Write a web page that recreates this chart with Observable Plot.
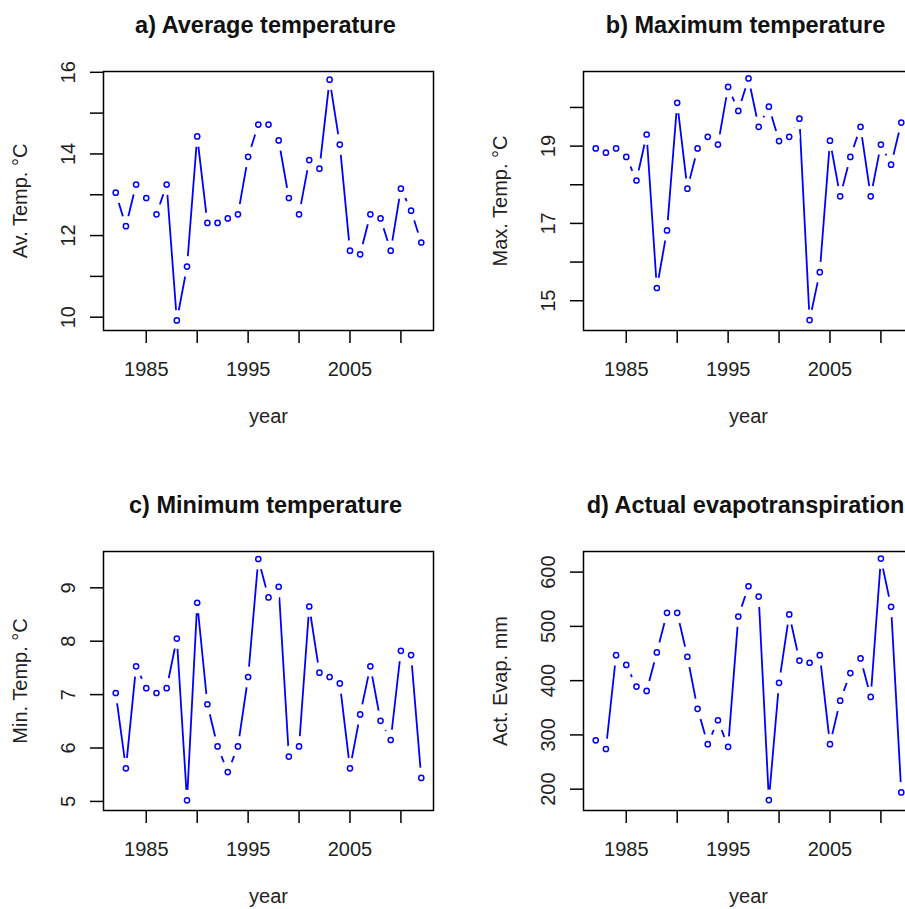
<!DOCTYPE html>
<html>
<head>
<meta charset="utf-8">
<script src="https://cdn.jsdelivr.net/npm/d3@7"></script>
<script src="https://cdn.jsdelivr.net/npm/@observablehq/plot@0.6"></script>
<style>
  html, body { margin: 0; padding: 0; background: white; }
  #wrap { position: relative; width: 905px; height: 909px; overflow: hidden; background: white; }
  #wrap > div { position: absolute; width: 480px; height: 480px; }
  #wrap svg { max-width: none !important; }
</style>
</head>
<body>
<div id="wrap"></div>
<script>
// ---- data ----
const years = [1982, 1983, 1984, 1985, 1986, 1987, 1988, 1989, 1990, 1991, 1992, 1993, 1994, 1995, 1996, 1997,
               1998, 1999, 2000, 2001, 2002, 2003, 2004, 2005, 2006, 2007, 2008, 2009, 2010, 2011, 2012];

const avgTemp = [13.05, 12.23, 13.25, 12.92, 12.52, 13.25, 9.92, 11.24, 14.43, 12.31, 12.31, 12.42, 12.52, 13.93, 14.72, 14.72,
                 14.33, 12.92, 12.52, 13.85, 13.64, 15.82, 14.23, 11.63, 11.54, 12.52, 12.42, 11.63, 13.15, 12.61, 11.83];

const maxTemp = [18.94, 18.83, 18.94, 18.72, 18.11, 19.30, 15.33, 16.82, 20.12, 17.90, 18.94, 19.24, 19.04, 20.53, 19.91, 20.75,
                 19.50, 20.02, 19.13, 19.24, 19.71, 14.50, 15.74, 19.14, 17.70, 18.72, 19.50, 17.70, 19.04, 18.52, 19.61];

const minTemp = [7.03, 5.62, 7.53, 7.12, 7.03, 7.12, 8.05, 5.02, 8.72, 6.82, 6.03, 5.55, 6.03, 7.33, 9.54, 8.82,
                 9.02, 5.84, 6.03, 8.65, 7.41, 7.33, 7.21, 5.62, 6.63, 7.53, 6.51, 6.15, 7.82, 7.74, 5.44];

const actEvap = [290, 274, 447, 429, 389, 381, 452, 525, 525, 444, 348, 283, 327, 278, 518, 574,
                 555, 180, 396, 522, 437, 433, 447, 283, 363, 414, 441, 370, 625, 536, 194];

const titles = ["a) Average temperature", "b) Maximum temperature", "c) Minimum temperature", "d) Actual evapotranspiration"];
const yLabels = ["Av. Temp. °C", "Max. Temp. °C", "Min. Temp. °C", "Act. Evap. mm"];
const xLabel = "year";

const xTicks = [1985, 1990, 1995, 2000, 2005, 2010];
const xTickLabels = [1985, 1995, 2005];

const yTicksA = [10, 11, 12, 13, 14, 15, 16];
const yTickLabelsA = [10, 12, 14, 16];
const yTicksB = [15, 16, 17, 18, 19, 20];
const yTickLabelsB = [15, 17, 19];
const yTicksC = [5, 6, 7, 8, 9];
const yTickLabelsC = [5, 6, 7, 8, 9];
const yTicksD = [200, 300, 400, 500, 600];
const yTickLabelsD = [200, 300, 400, 500, 600];

// ---- drawing ----
const BLUE = "#0000ff";
const FONT = "'Liberation Sans', Arial, Helvetica, sans-serif";

function panel(values, title, ylab, yDomain, yTicks, yTickLabels) {
  const data = years.map((yr, i) => ({year: yr, value: values[i]}));
  return Plot.plot({
    width: 480,
    height: 480,
    marginLeft: 103,
    marginRight: 47,
    marginTop: 71,
    marginBottom: 150,
    style: {fontFamily: FONT, fontSize: "20px", background: "white", color: "black", overflow: "visible", maxWidth: "none"},
    x: {domain: [1980.8, 2013.2], axis: null},
    y: {domain: yDomain, axis: null},
    marks: [
      Plot.line(data, {x: "year", y: "value", stroke: BLUE, strokeWidth: 1.8}),
      Plot.dot(data, {x: "year", y: "value", r: 10.5, fill: "white", stroke: null}),
      Plot.frame({stroke: "black", strokeWidth: 1.5}),
      Plot.axisX({ticks: xTicks, tickSize: 13, tickFormat: () => "", strokeWidth: 1.5, label: null}),
      Plot.axisY({ticks: yTicks, tickSize: 13, tickFormat: () => "", strokeWidth: 1.5, label: null}),
      Plot.text(xTickLabels, {x: d => d, text: d => String(d), frameAnchor: "bottom", lineAnchor: "bottom", dy: 45, fontSize: 20, fill: "#222"}),
      Plot.text(yTickLabels, {y: d => d, text: d => String(d), frameAnchor: "left", lineAnchor: "bottom", textAnchor: "middle", rotate: -90, dx: -29, fontSize: 20, fill: "#222"}),
      Plot.text([title], {text: d => d, frameAnchor: "top", lineAnchor: "bottom", dx: -3, dy: -39, fontSize: 23.5, fontWeight: "bold", fill: "#111"}),
      Plot.text([xLabel], {text: d => d, frameAnchor: "bottom", lineAnchor: "bottom", dy: 92, fontSize: 20, fill: "#222"}),
      Plot.text([ylab], {text: d => d, frameAnchor: "left", lineAnchor: "bottom", textAnchor: "middle", rotate: -90, dx: -77, fontSize: 20, fill: "#222"}),
      Plot.dot(data, {x: "year", y: "value", r: 2.6, fill: "none", stroke: BLUE, strokeWidth: 1.5})
    ]
  });
}

const wrap = document.getElementById("wrap");
const specs = [
  {vals: avgTemp, dom: [9.674, 16.02], ticks: yTicksA, labels: yTickLabelsA, left: 0, top: 0},
  {vals: maxTemp, dom: [14.23, 20.93], ticks: yTicksB, labels: yTickLabelsB, left: 480, top: 0},
  {vals: minTemp, dom: [4.83, 9.68], ticks: yTicksC, labels: yTickLabelsC, left: 0, top: 480},
  {vals: actEvap, dom: [160.7, 638], ticks: yTicksD, labels: yTickLabelsD, left: 480, top: 480}
];
specs.forEach((s, i) => {
  const holder = document.createElement("div");
  holder.style.left = s.left + "px";
  holder.style.top = s.top + "px";
  const svg = panel(s.vals, titles[i], yLabels[i], s.dom, s.ticks, s.labels);
  svg.style.maxWidth = "none";
  holder.appendChild(svg);
  wrap.appendChild(holder);
});
</script>
</body>
</html>
